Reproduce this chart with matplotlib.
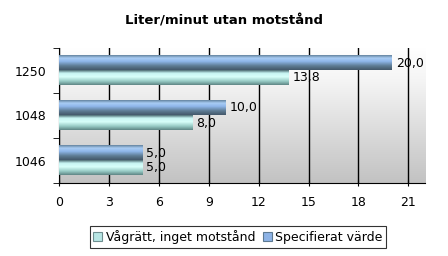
import numpy as np
import matplotlib
matplotlib.use("Agg")
import matplotlib.pyplot as plt
from matplotlib.colors import LinearSegmentedColormap
from matplotlib.patches import Patch

# data
kategorier = ["1046", "1048", "1250"]
vagratt = [5.0, 8.0, 13.8]          # Vågrätt, inget motstånd
specifierat = [5.0, 10.0, 20.0]     # Specifierat värde
x_ticks = [0, 3, 6, 9, 12, 15, 18, 21]
titel = "Liter/minut utan motstånd"
serie_namn = ["Vågrätt, inget motstånd", "Specifierat värde"]

plt.rcParams["font.family"] = ["DejaVu Sans"]
FS = 9

blue_cmap = LinearSegmentedColormap.from_list(
    "blue_cyl",
    [(0.0, "#64849f"), (0.2, "#a8ccf4"), (0.42, "#8fb6ea"),
     (0.72, "#5e7c94"), (1.0, "#44586a")])
cyan_cmap = LinearSegmentedColormap.from_list(
    "cyan_cyl",
    [(0.0, "#4c6a72"), (0.2, "#c6f4f2"), (0.45, "#d8fffa"),
     (0.75, "#96cac4"), (1.0, "#608686")])

fig = plt.figure(figsize=(4.48, 2.56), dpi=100)
ax = fig.add_axes([59 / 448, 1 - 183 / 256, 366 / 448, 135 / 256])

# bakgrund med gradient
bg = np.linspace(0, 1, 256).reshape(-1, 1)
bg_cmap = LinearSegmentedColormap.from_list(
    "bg", [(0, "#ffffff"), (0.25, "#f4f4f4"), (1, "#c2c2c2")])
ax.imshow(bg, cmap=bg_cmap, aspect="auto", extent=[0, 1, 0, 1],
          transform=ax.transAxes, zorder=0)

y = np.arange(len(kategorier))
h = 1 / 3
bars_c = ax.barh(y - h / 2, vagratt, height=h, color="none", zorder=3)
bars_b = ax.barh(y + h / 2, specifierat, height=h, color="none", zorder=3)

grad = np.linspace(0, 1, 64).reshape(-1, 1)
for bars, cmap in [(bars_c, cyan_cmap), (bars_b, blue_cmap)]:
    for p in bars:
        x0, y0 = p.get_x(), p.get_y()
        w, hh = p.get_width(), p.get_height()
        ax.imshow(grad, cmap=cmap, aspect="auto",
                  extent=[x0, x0 + w, y0, y0 + hh], origin="upper",
                  zorder=3)

for bars, vals in [(bars_c, vagratt), (bars_b, specifierat)]:
    for p, v in zip(bars, vals):
        ax.text(v + 0.25, p.get_y() + p.get_height() / 2,
                f"{v:.1f}".replace(".", ","), ha="left", va="center",
                fontsize=FS, color="black", zorder=5)

ax.set_xlim(0, 22)
ax.set_ylim(-0.5, len(kategorier) - 0.5)
ax.set_xticks(x_ticks)
ax.set_xticklabels([str(t) for t in x_ticks], fontsize=FS)
ax.set_yticks(y)
ax.set_yticklabels(kategorier, fontsize=FS)
ax.set_yticks(np.arange(-0.5, len(kategorier)), minor=True)
ax.tick_params(axis="y", which="major", length=0, pad=9)
ax.tick_params(axis="y", which="minor", length=4, color="black")
ax.tick_params(axis="x", length=4, direction="inout", pad=7)

ax.grid(axis="x", color="black", linewidth=1, zorder=1)
ax.set_axisbelow(True)
for s in ["top", "right"]:
    ax.spines[s].set_visible(False)
ax.spines["left"].set_color("black")
ax.spines["bottom"].set_color("black")

fig.text(0.5, 1 - 21 / 256, titel, ha="center", va="center",
         fontsize=9.5, fontweight="bold")

handles = [Patch(facecolor="#b8e6e4", edgecolor="#6e8e90", linewidth=0.8),
           Patch(facecolor="#8db3e6", edgecolor="#5d7a92", linewidth=0.8)]
leg = fig.legend(handles, serie_namn, loc="center",
                 bbox_to_anchor=(238 / 448, 1 - 237 / 256), ncol=2,
                 fontsize=FS, frameon=True, fancybox=False, shadow=False,
                 handlelength=0.7, handleheight=0.7, handletextpad=0.3,
                 columnspacing=0.6, borderpad=0.3, borderaxespad=0)
leg.get_frame().set_edgecolor("black")
leg.get_frame().set_linewidth(0.8)

fig.savefig("out.png", dpi=100)
